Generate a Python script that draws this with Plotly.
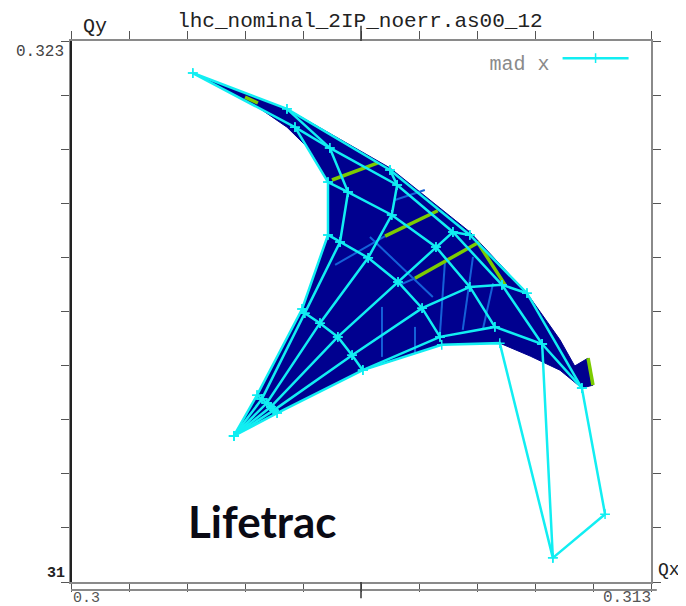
import plotly.graph_objects as go

# Tune footprint mesh: one row per ray, one column per amplitude arc
ray_qx = [
    [0.30365, 0.30417, 0.30518, 0.30576, 0.30576, 0.30502, 0.30273],
    [0.30365, 0.30428, 0.30524, 0.30603, 0.30621, 0.30580, 0.30484],
    [0.30365, 0.30439, 0.30558, 0.30666, 0.30719, 0.30731, 0.30715],
    [0.30365, 0.30448, 0.30598, 0.30733, 0.30818, 0.30856, 0.30894],
    [0.30365, 0.30455, 0.30630, 0.30787, 0.30894, 0.30966, 0.31022],
    [0.30365, 0.30462, 0.30654, 0.30827, 0.30950, 0.31056, 0.31145],
]
ray_qy = [
    [0.31351, 0.31449, 0.31656, 0.31834, 0.31961, 0.32093, 0.32223],
    [0.31351, 0.31440, 0.31646, 0.31817, 0.31937, 0.32043, 0.32137],
    [0.31351, 0.31430, 0.31622, 0.31779, 0.31882, 0.31954, 0.31990],
    [0.31351, 0.31421, 0.31589, 0.31721, 0.31805, 0.31841, 0.31834],
    [0.31351, 0.31413, 0.31545, 0.31658, 0.31709, 0.31714, 0.31694],
    [0.31351, 0.31406, 0.31509, 0.31589, 0.31613, 0.31572, 0.31466],
]
# Lower edge and the far outliers
edge_qx = [0.30654, 0.30831, 0.30961, 0.31080, 0.31056]
edge_qy = [0.31509, 0.31570, 0.31574, 0.31058, 0.31572]
outlier_qx = [0.31145, 0.31197, 0.31080]
outlier_qy = [0.31466, 0.31163, 0.31058]

# Outline of the dark stable area
area_qx = [0.30273, 0.30484, 0.30715, 0.30894, 0.31022, 0.31096, 0.31129, 0.31159, 0.31170,
           0.31145, 0.31096, 0.31029, 0.30961, 0.30831, 0.30654, 0.30462, 0.30365, 0.30417,
           0.30518, 0.30576, 0.30576, 0.30536, 0.30484, 0.30412, 0.30273]
area_qy = [0.32223, 0.32137, 0.31995, 0.31841, 0.31694, 0.31582, 0.31519, 0.31538, 0.31473,
           0.31466, 0.31509, 0.31543, 0.31574, 0.31570, 0.31509, 0.31406, 0.31351, 0.31449,
           0.31656, 0.31834, 0.31961, 0.32038, 0.32093, 0.32146, 0.32223]

# Resonance streaks
green_lines = [
    ([0.30585, 0.30688], [0.31966, 0.32007]),
    ([0.30704, 0.30822], [0.31831, 0.31892]),
    ([0.30771, 0.30912, 0.30973], [0.31730, 0.31815, 0.31714]),
    ([0.30390, 0.30419], [0.32165, 0.32151]),
    ([0.31159, 0.31170], [0.31538, 0.31473]),
]
blue_lines = [
    ([0.30592, 0.30704], [0.31762, 0.31831]),
    ([0.30697, 0.30697], [0.31661, 0.31541]),
    ([0.30771, 0.30771], [0.31613, 0.31550]),
    ([0.30670, 0.30811], [0.31829, 0.31685]),
    ([0.30901, 0.30878], [0.31781, 0.31606]),
    ([0.30946, 0.30923], [0.31718, 0.31606]),
    ([0.30838, 0.30827], [0.31767, 0.31598]),
    ([0.30737, 0.30771], [0.31714, 0.31730]),
    ([0.30726, 0.30793], [0.31918, 0.31942]),
]

x_ticks = [0.3 + 0.0013 * i for i in range(11)]
y_ticks = [0.31 + 0.0013 * i for i in range(11)]

CYAN = "#12eef2"
fig = go.Figure()
fig.add_trace(go.Scatter(x=area_qx, y=area_qy, mode="lines", fill="toself", fillcolor="#00008f",
                         line=dict(color="#00008f", width=1), showlegend=False, hoverinfo="skip"))
for qx, qy in blue_lines:
    fig.add_trace(go.Scatter(x=qx, y=qy, mode="lines", line=dict(color="#1460d8", width=2),
                             showlegend=False, hoverinfo="skip"))
for qx, qy in green_lines:
    fig.add_trace(go.Scatter(x=qx, y=qy, mode="lines", line=dict(color="#7ccc00", width=3.5),
                             showlegend=False, hoverinfo="skip"))

mesh_x, mesh_y = [], []
for rx, ry in zip(ray_qx, ray_qy):
    mesh_x += rx + [None]
    mesh_y += ry + [None]
for j in range(len(ray_qx[0])):
    mesh_x += [r[j] for r in ray_qx] + [None]
    mesh_y += [r[j] for r in ray_qy] + [None]
mesh_x += edge_qx + [None] + outlier_qx
mesh_y += edge_qy + [None] + outlier_qy

fig.add_trace(go.Scatter(x=mesh_x, y=mesh_y, mode="lines+markers", name=" ",
                         line=dict(color=CYAN, width=2.5),
                         marker=dict(symbol="cross-thin", size=7, color=CYAN,
                                     line=dict(color=CYAN, width=1.5)),
                         hoverinfo="skip"))

axis_common = dict(showgrid=False, zeroline=False, showline=True, linecolor="#8a8a8a", linewidth=2,
                   mirror="ticks", ticks="outside", ticklen=8, tickcolor="#555555", tickwidth=1,
                   showticklabels=False, fixedrange=True)
fig.update_xaxes(range=[0.3, 0.313], tickvals=x_ticks, **axis_common)
fig.update_yaxes(range=[0.31, 0.323], tickvals=y_ticks, **axis_common)

MONO = "Liberation Mono"
def note(text, x, y, size=15, color="#222222", family=MONO):
    fig.add_annotation(text=text, x=x, y=y, xref="paper", yref="paper", showarrow=False,
                       xanchor="center", yanchor="middle",
                       font=dict(family=family, size=size, color=color))

note("Qy", 0.041, 1.026, size=20)
note("Qx", 1.031, 0.022, size=18)
note("0.323", -0.053, 0.98, size=16, color="#444444")
note("<b>31</b>", -0.026, 0.015, size=15)
note("0.3", 0.026, -0.03, size=15, color="#555555")
note("0.313", 0.959, -0.03, size=16, color="#555555")
note("<b>Lifetrac</b>", 0.331, 0.113, size=44, color="#0a0a14", family="Lato")

fig.add_shape(type="line", xref="paper", yref="paper", x0=0, x1=0, y0=0, y1=1,
              line=dict(color="#222222", width=2))
fig.add_shape(type="line", xref="paper", yref="paper", x0=0, x1=1.01, y0=-0.0148, y1=-0.0148,
              line=dict(color="#8a8a8a", width=2))
fig.add_shape(type="line", xref="paper", yref="paper", x0=0.5, x1=0.5, y0=-0.03, y1=0,
              line=dict(color="#333333", width=1.5))
fig.add_shape(type="line", xref="paper", yref="paper", x0=0.5, x1=0.5, y0=1, y1=1.028,
              line=dict(color="#333333", width=1.5))

fig.update_layout(
    width=678, height=598, margin=dict(l=63, r=35, t=33, b=24),
    paper_bgcolor="white", plot_bgcolor="white",
    title=dict(text="lhc_nominal_2IP_noerr.as00_12", x=0.519, xanchor="center", y=0.98, yanchor="middle",
               font=dict(family=MONO, size=21, color="#222222")),
    showlegend=True,
    legend=dict(x=0.982, y=0.995, xanchor="right", yanchor="top", bgcolor="rgba(0,0,0,0)",
                itemwidth=66,
                title=dict(text="mad x", side="left", font=dict(family=MONO, size=20, color="#8a8a8a")),
                font=dict(family=MONO, size=2)),
)
fig.write_html("out.html", config=dict(displayModeBar=False))
